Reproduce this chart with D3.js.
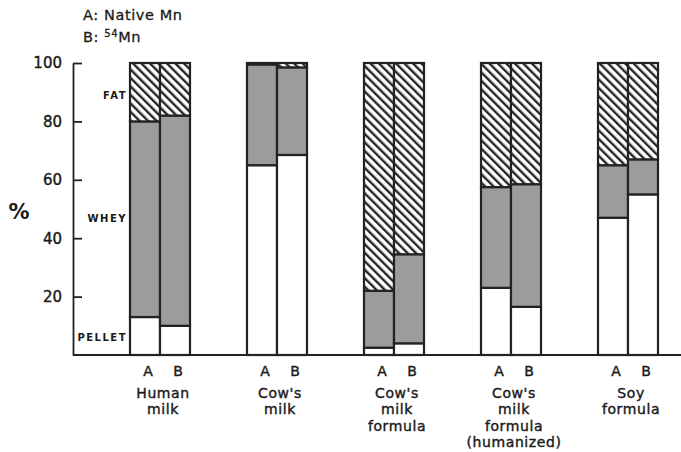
<!DOCTYPE html>
<html>
<head>
<meta charset="utf-8">
<script src="https://cdn.jsdelivr.net/npm/d3@7"></script>
<style>
  body { margin: 0; background: #fff; }
  text { font-family: "DejaVu Sans", sans-serif; fill: #1a1a1a; }
</style>
</head>
<body>
<div id="chart"></div>
<script>
// Mn distribution in milk fractions (%), A = native Mn, B = 54Mn
var categories = ["Human milk", "Cow's milk", "Cow's milk formula", "Cow's milk formula (humanized)", "Soy formula"];
var categoryLines = [["Human", "milk"], ["Cow's", "milk"], ["Cow's", "milk", "formula"], ["Cow's", "milk", "formula", "(humanized)"], ["Soy", "formula"]];
var fractions = ["PELLET", "WHEY", "FAT"];

var pelletA = [13, 65, 2.5, 23, 47];
var wheyA   = [67, 34.5, 19.5, 34.5, 18];
var fatA    = [20, 0.5, 78, 42.5, 35];

var pelletB = [10, 68.5, 4, 16.5, 55];
var wheyB   = [72, 30, 30.5, 42, 12];
var fatB    = [18, 1.5, 65.5, 41.5, 33];

var yTicks = [20, 40, 60, 80, 100];

var width = 681, height = 452;

var svg = d3.select("#chart").append("svg")
  .attr("width", width)
  .attr("height", height);

// hatch pattern for the fat fraction
var defs = svg.append("defs");
defs.append("pattern")
    .attr("id", "hatch")
    .attr("patternUnits", "userSpaceOnUse")
    .attr("width", 6)
    .attr("height", 6)
    .attr("patternTransform", "rotate(-45)")
  .call(function(p) {
    p.append("rect").attr("width", 6).attr("height", 6).attr("fill", "#fff");
    p.append("rect").attr("x", 0).attr("y", 0).attr("width", 2.4).attr("height", 6).attr("fill", "#262626");
  });

var fills = { PELLET: "#fff", WHEY: "#9c9c9c", FAT: "url(#hatch)" };

var x = d3.scalePoint().domain(categories).range([160, 628]);
var y = d3.scaleLinear().domain([0, 100]).range([355, 63]);
var barW = 30;

// build the stacked rows
var rows = [];
categories.forEach(function(c, i) {
  [["A", pelletA, wheyA, fatA], ["B", pelletB, wheyB, fatB]].forEach(function(s) {
    var vals = { PELLET: s[1][i], WHEY: s[2][i], FAT: s[3][i] };
    var base = 0;
    fractions.forEach(function(f) {
      rows.push({ cat: c, series: s[0], frac: f, y0: base, y1: base + vals[f] });
      base += vals[f];
    });
  });
});

function barX(d) {
  return d.series === "A" ? x(d.cat) - barW : x(d.cat);
}

svg.append("g").selectAll("rect")
  .data(rows)
  .enter()
  .append("rect")
    .attr("x", barX)
    .attr("y", function(d) { return y(d.y1); })
    .attr("width", barW)
    .attr("height", function(d) { return y(d.y0) - y(d.y1); })
    .attr("fill", function(d) { return fills[d.frac]; })
    .attr("stroke", "#222")
    .attr("stroke-width", 2.2);

// y axis, ticks pointing into the plot
var yAxis = svg.append("g")
  .attr("transform", "translate(73,0)")
  .call(d3.axisLeft(y).tickValues(yTicks).tickSizeInner(-9).tickSizeOuter(0).tickPadding(11));
yAxis.select(".domain").attr("stroke", "#222").attr("stroke-width", 1.8);
yAxis.selectAll(".tick line").attr("stroke", "#222").attr("stroke-width", 1.8);
yAxis.selectAll(".tick text")
  .attr("font-size", 15)
  .attr("font-family", "DejaVu Sans, sans-serif")
  .attr("fill", "#1a1a1a")
  .attr("stroke", "#1a1a1a")
  .attr("stroke-width", 0.4);

// baseline
svg.append("line")
  .attr("x1", 73).attr("x2", width)
  .attr("y1", y(0)).attr("y2", y(0))
  .attr("stroke", "#222").attr("stroke-width", 2);

// % label
svg.append("text")
  .attr("x", 19).attr("y", 219)
  .attr("text-anchor", "middle")
  .attr("font-size", 21)
  .attr("font-weight", "bold")
  .text("%");

// fraction labels beside axis
var fracLabelY = { FAT: 89, WHEY: 47, PELLET: 6 };
svg.append("g").selectAll("text")
  .data(fractions)
  .enter()
  .append("text")
    .attr("x", 127)
    .attr("y", function(f) { return y(fracLabelY[f]) + 4; })
    .attr("text-anchor", "end")
    .attr("font-size", 10)
    .attr("font-weight", "bold")
    .attr("letter-spacing", 1.5)
    .text(function(f) { return f; });

// A / B labels under bars
var abRows = [];
categories.forEach(function(c) {
  abRows.push({ cat: c, series: "A" });
  abRows.push({ cat: c, series: "B" });
});
svg.append("g").selectAll("text")
  .data(abRows)
  .enter()
  .append("text")
    .attr("x", function(d) { return barX(d) + barW / 2 + 3; })
    .attr("y", 376)
    .attr("text-anchor", "middle")
    .attr("font-size", 14)
    .attr("stroke", "#1a1a1a")
    .attr("stroke-width", 0.4)
    .text(function(d) { return d.series; });

// category labels
var catG = svg.append("g").selectAll("g")
  .data(categories)
  .enter()
  .append("g")
    .attr("transform", function(c) { return "translate(" + (x(c) + 3) + ",0)"; });
catG.selectAll("text")
  .data(function(c, i) { return categoryLines[i]; })
  .enter()
  .append("text")
    .attr("x", 0)
    .attr("y", function(t, j) { return 398 + j * 16.3; })
    .attr("text-anchor", "middle")
    .attr("font-size", 14)
    .attr("letter-spacing", 0.6)
    .attr("stroke", "#1a1a1a")
    .attr("stroke-width", 0.4)
    .text(function(t) { return t; });

// legend
var legend = svg.append("g")
  .attr("font-size", 14.5)
  .attr("letter-spacing", 0.6)
  .attr("stroke", "#1a1a1a")
  .attr("stroke-width", 0.3);
legend.append("text").attr("x", 83).attr("y", 20).text("A: Native Mn");
var lb = legend.append("text").attr("x", 83).attr("y", 42);
lb.append("tspan").text("B: ");
lb.append("tspan").attr("font-size", 10).attr("dy", -5).text("54");
lb.append("tspan").attr("dy", 5).text("Mn");
</script>
</body>
</html>
